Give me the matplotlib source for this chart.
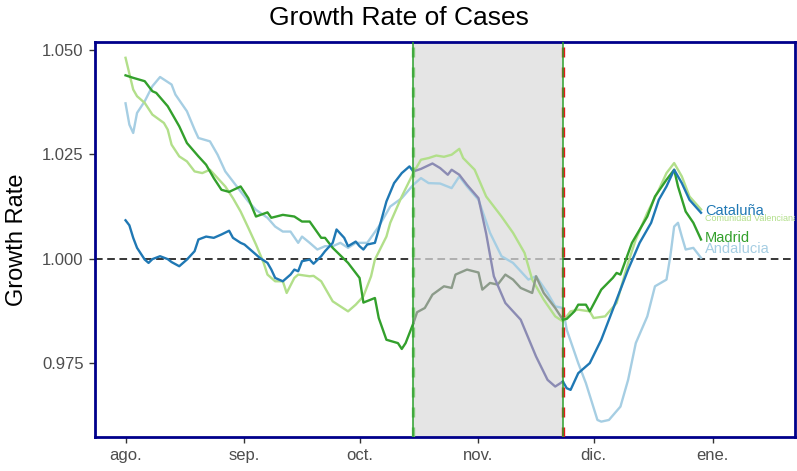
import numpy as np
import matplotlib.pyplot as plt

plt.rcParams["font.family"] = ["Liberation Sans", "DejaVu Sans"]

# ============================================================
# data (days since 1 Aug 2020)
# ============================================================
cat_days = [0, 1, 2, 3, 5, 6, 7, 9, 11, 12, 14, 16, 18, 19, 21, 23, 25, 27, 28, 30,
            31, 33, 35, 37, 38, 39, 41, 43, 44, 45, 46, 48, 49, 51, 52, 54, 55, 56, 57, 58,
            60, 61, 62, 63, 65, 66, 68, 70, 72, 74, 75,
            77, 80, 82, 84, 85, 87, 89, 92, 94, 96, 99, 103, 107, 110, 112, 114,
            115, 116, 118, 121, 124, 127, 131, 134, 137, 139, 141, 143, 145, 147, 150]
cat_vals = [1.0092, 1.0080, 1.0050, 1.0026, 0.9998, 0.9990, 0.9999, 1.0006, 0.9999, 0.9992,
            0.9982, 0.9998, 1.0018, 1.0046, 1.0053, 1.0050, 1.0058, 1.0067, 1.0050, 1.0038,
            1.0034, 1.0018, 1.0002, 0.9990, 0.9974, 0.9954, 0.9946, 0.9962, 0.9974, 0.9970,
            0.9994, 0.9998, 0.9988, 1.0006, 1.0018, 1.0038, 1.0070, 1.0060, 1.0050, 1.0030,
            1.0041, 1.0030, 1.0022, 1.0034, 1.0038, 1.0070, 1.0137, 1.0181, 1.0205, 1.0221, 1.0209,
            1.0215, 1.0228, 1.0217, 1.0201, 1.0213, 1.0201, 1.0177, 1.0145, 1.0060, 0.9958,
            0.9894, 0.9854, 0.9766, 0.9710, 0.9694, 0.9706,
            0.9690, 0.9686, 0.9726, 0.9750, 0.9806, 0.9878, 0.9974, 1.0038, 1.0086, 1.0141,
            1.0173, 1.0213, 1.0181, 1.0141, 1.0110]

mad_days = [0, 2, 5, 7, 8, 11, 14, 16, 19, 21, 23, 25, 27, 30, 32, 34, 37, 38, 41, 44,
            46, 48, 51, 52, 54, 58, 61, 62, 65, 66, 68, 71, 72, 73, 75,
            76, 78, 80, 83, 85, 86, 89, 92, 93, 95, 97, 99, 101, 103, 106, 107, 109, 112, 114,
            115, 117, 118, 120, 121, 124, 127, 128, 129, 132, 136, 138, 141, 143, 144, 146, 148, 150]
mad_vals = [1.0439, 1.0433, 1.0425, 1.0401, 1.0397, 1.0365, 1.0317, 1.0277, 1.0245, 1.0225,
            1.0193, 1.0165, 1.0160, 1.0173, 1.0145, 1.0101, 1.0111, 1.0098, 1.0105, 1.0101,
            1.0089, 1.0089, 1.0050, 1.0050, 1.0026, 0.9990, 0.9954, 0.9895, 0.9906, 0.9858,
            0.9806, 0.9798, 0.9784, 0.9798, 0.9845,
            0.9872, 0.9882, 0.9914, 0.9934, 0.9930, 0.9962, 0.9974, 0.9967, 0.9926, 0.9942,
            0.9938, 0.9962, 0.9950, 0.9930, 0.9918, 0.9958, 0.9918, 0.9882, 0.9854,
            0.9856, 0.9874, 0.9890, 0.9890, 0.9874, 0.9926, 0.9954, 0.9966, 0.9962, 1.0038,
            1.0101, 1.0149, 1.0189, 1.0213, 1.0173, 1.0113, 1.0086, 1.0046]

val_days = [0, 2, 3, 5, 7, 10, 11, 12, 14, 16, 18, 20, 22, 24, 26, 28, 30, 32, 34, 36,
            37, 39, 41, 42, 44, 45, 48, 49, 51, 54, 56, 58, 60, 62, 64, 65, 68, 69, 72, 75,
            77, 79, 81, 83, 85, 87, 88, 91, 94, 98, 101, 104, 106, 109, 112, 114,
            116, 118, 121, 122, 125, 128, 131, 133, 136, 139, 141, 143, 145, 147, 150]
val_vals = [1.0481, 1.0405, 1.0389, 1.0373, 1.0345, 1.0325, 1.0309, 1.0273, 1.0245, 1.0233,
            1.0209, 1.0205, 1.0213, 1.0193, 1.0173, 1.0145, 1.0113, 1.0074, 1.0034, 0.9990,
            0.9962, 0.9946, 0.9946, 0.9918, 0.9954, 0.9962, 0.9958, 0.9959, 0.9946, 0.9898,
            0.9886, 0.9874, 0.9890, 0.9910, 0.9958, 0.9998, 1.0053, 1.0086, 1.0149, 1.0205,
            1.0237, 1.0241, 1.0247, 1.0244, 1.0249, 1.0263, 1.0241, 1.0213, 1.0149, 1.0101,
            1.0062, 1.0014, 0.9950, 0.9902, 0.9862, 0.9850,
            0.9874, 0.9878, 0.9874, 0.9858, 0.9862, 0.9894, 0.9990, 1.0046, 1.0110, 1.0165,
            1.0205, 1.0229, 1.0197, 1.0149, 1.0118]

and_days = [0, 1, 2, 3, 5, 7, 9, 12, 13, 16, 18, 19, 22, 24, 26, 29, 32, 34, 37, 39,
            41, 43, 45, 46, 48, 50, 52, 54, 56, 58, 60, 63, 66, 69, 72, 75,
            77, 79, 82, 85, 87, 89, 92, 95, 98, 101, 105, 107, 110, 112, 114,
            115, 118, 120, 123, 124, 126, 129, 131, 133, 136, 138, 141, 142, 143, 144, 145,
            146, 148, 150]
and_vals = [1.0372, 1.0321, 1.0301, 1.0349, 1.0377, 1.0413, 1.0435, 1.0417, 1.0393, 1.0353,
            1.0309, 1.0289, 1.0281, 1.0249, 1.0209, 1.0173, 1.0137, 1.0117, 1.0098, 1.0077,
            1.0065, 1.0065, 1.0038, 1.0053, 1.0038, 1.0022, 1.0030, 1.0030, 1.0038, 1.0026,
            1.0038, 1.0038, 1.0077, 1.0125, 1.0145, 1.0177,
            1.0193, 1.0181, 1.0180, 1.0169, 1.0197, 1.0173, 1.0141, 1.0062, 1.0006, 0.9990,
            0.9950, 0.9958, 0.9918, 0.9886, 0.9882,
            0.9830, 0.9750, 0.9702, 0.9614, 0.9610, 0.9614, 0.9646, 0.9710, 0.9798, 0.9862,
            0.9934, 0.9950, 1.0006, 1.0077, 1.0086, 1.0053, 1.0022, 1.0026, 1.0002]

month_ticks = [0, 31, 61, 92, 122, 153]
month_labels = ["ago.", "sep.", "oct.", "nov.", "dic.", "ene."]

shade_start = 75
shade_end = 114

# ============================================================
# plot
# ============================================================
fig = plt.figure(figsize=(7.97, 4.71), dpi=100)
ax = fig.add_axes([0.119, 0.072, 0.8785, 0.839])

x_min, x_max = -8, 174.5
ax.set_xlim(x_min, x_max)
ax.set_ylim(0.9573, 1.0519)

ax.axvspan(shade_start, shade_end, color="#e5e5e5", zorder=0, lw=0)

# reference line at 1
ax.plot([x_min, shade_start], [1, 1], color="black", lw=1.1, ls=(0, (5, 3)), zorder=1)
ax.plot([shade_end, x_max], [1, 1], color="black", lw=1.1, ls=(0, (5, 3)), zorder=1)
ax.plot([shade_start, shade_end], [1, 1], color="#a0a0a0", lw=1.1, ls=(0, (5, 3)), zorder=1)


def plot_split(days, vals, color, shade_color):
    days = np.asarray(days)
    vals = np.asarray(vals)
    before = days <= shade_start
    inside = (days >= shade_start) & (days <= shade_end)
    after = days >= shade_end
    ax.plot(days[before], vals[before], color=color, lw=1.7, zorder=3)
    ax.plot(days[inside], vals[inside], color=shade_color, lw=1.7, zorder=3)
    ax.plot(days[after], vals[after], color=color, lw=1.7, zorder=3)


ax.plot(and_days, and_vals, color="#a6cee3", lw=1.7, zorder=2)
ax.plot(val_days, val_vals, color="#b2df8a", lw=1.7, zorder=2)
plot_split(mad_days, mad_vals, "#33a02c", "#8c9b8a")
plot_split(cat_days, cat_vals, "#1f78b4", "#8b8bb3")

# boundaries of the shaded period
ax.axvline(shade_start, color="#74c46a", lw=2.4, ls=(0, (3, 3)), alpha=0.85, zorder=5)
ax.axvline(shade_start, color="#2ca02c", lw=1.1, zorder=6)
ax.axvline(shade_end, color="#e41a1c", lw=2.4, ls=(0, (3, 3)), zorder=5)
ax.axvline(shade_end, color="#2ca02c", lw=1.1, zorder=6)

# end labels
ax.text(151, 1.0115, "Cataluña", color="#1f78b4", fontsize=10.5, va="center", ha="left", clip_on=True)
ax.text(151, 1.0096, "Comunidad Valenciana", color="#b2df8a", fontsize=6.5, va="center", ha="left", clip_on=True)
ax.text(151, 1.0050, "Madrid", color="#33a02c", fontsize=10.5, va="center", ha="left", clip_on=True)
ax.text(151, 1.0024, "Andalucia", color="#a6cee3", fontsize=10.5, va="center", ha="left", clip_on=True)

ax.set_xticks(month_ticks)
ax.set_xticklabels(month_labels)
ax.set_yticks([0.975, 1.000, 1.025, 1.050])
ax.set_yticklabels(["0.975", "1.000", "1.025", "1.050"])
ax.tick_params(axis="both", labelsize=12, labelcolor="#4d4d4d", color="#333333",
               length=4, width=1, pad=4)

for s in ax.spines.values():
    s.set_color("#00008b")
    s.set_linewidth(2)

ax.set_ylabel("Growth Rate", fontsize=17, labelpad=10)
fig.text(0.5, 0.962, "Growth Rate of Cases", fontsize=19, ha="center", va="center")

plt.savefig("out.png", dpi=100)
